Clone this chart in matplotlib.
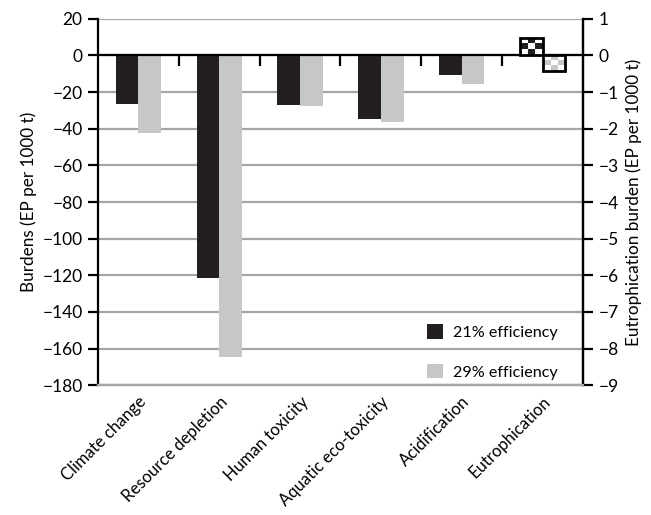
import numpy as np
import matplotlib.pyplot as plt
from matplotlib.patches import Patch
from matplotlib.colors import ListedColormap

plt.rcParams['font.family'] = ['Lato', 'DejaVu Sans']

categories = ['Climate change', 'Resource depletion', 'Human toxicity',
              'Aquatic eco-toxicity', 'Acidification', 'Eutrophication']
# burdens on left axis (first five categories)
eff21 = [-26.3, -121.3, -26.9, -34.5, -10.9]
eff29 = [-42.3, -164.8, -27.6, -36.3, -15.4]
# eutrophication on right axis
eutro21 = 0.48
eutro29 = -0.44

left_ticks = np.arange(-180, 21, 20)
right_ticks = np.arange(-9, 2, 1)

dark = '#231f20'
light = '#c6c7c8'
gridc = '#a6a6a6'

fig = plt.figure(figsize=(6.51, 5.15), dpi=100)
ax = fig.add_axes([0.1505, 0.2518, 0.745, 0.7119])
ax2 = ax.twinx()

x = np.arange(len(categories))
w = 0.28

ax.set_xlim(-0.5, len(categories) - 0.5)
ax.set_ylim(-180, 20)
ax2.set_ylim(-9, 1)

ax.set_yticks(left_ticks)
ax2.set_yticks(right_ticks)
ax.yaxis.grid(True, color=gridc, lw=1.6)
ax.set_axisbelow(True)

ax.bar(x[:5] - w / 2, eff21, w, color=dark, zorder=3)
ax.bar(x[:5] + w / 2, eff29, w, color=light, zorder=3)

# eutrophication bars with checker fill on the secondary axis
b1 = ax2.bar(x[5] - w / 2, eutro21, w, facecolor='white', edgecolor='none', zorder=3)
b2 = ax2.bar(x[5] + w / 2, eutro29, w, facecolor='white', edgecolor='none', zorder=3)
for bars, col in [(b1, dark), (b2, light)]:
    p = bars[0]
    x0, y0 = p.get_x(), p.get_y()
    x1, y1 = x0 + p.get_width(), y0 + p.get_height()
    cells = (np.indices((3, 3)).sum(axis=0) % 2).astype(float)
    im = ax2.imshow(cells, cmap=ListedColormap(['white', col]),
                    extent=[x0, x1, min(y0, y1), max(y0, y1)],
                    aspect='auto', interpolation='nearest', zorder=3.5)
    im.set_clip_path(p)
    ax2.add_patch(plt.Rectangle((x0, y0), p.get_width(), p.get_height(), fill=False,
                                edgecolor='black', lw=2, zorder=4))

ax.axhline(0, color='black', lw=1.6, zorder=5)

# category separators hanging under the zero line
zero_pos = (0 - ax.get_ylim()[0]) / (ax.get_ylim()[1] - ax.get_ylim()[0])
sec = ax.secondary_xaxis(zero_pos)
sec.set_xticks(x[:-1] + 0.5)
sec.set_xticklabels([])
sec.tick_params(direction='in', length=8, width=1.6, color='black')
for s in sec.spines.values():
    s.set_visible(False)

ax.set_xticks(x)
ax.set_xticklabels(categories, rotation=45, ha='right', rotation_mode='anchor', fontsize=12)
ax.tick_params(axis='x', length=0, pad=6)

for a in (ax, ax2):
    a.spines['top'].set_visible(False)
    a.spines['bottom'].set_color(gridc)
    a.spines['bottom'].set_linewidth(1.6)
    a.spines['left'].set_linewidth(1.6)
    a.spines['right'].set_linewidth(1.6)
    a.tick_params(axis='y', labelsize=12.5, length=7, width=1.6, direction='out', pad=4)
ax2.spines['left'].set_visible(False)

ax.set_ylabel('Burdens (EP per 1000 t)', fontsize=12.3, labelpad=4)
ax2.set_ylabel('Eutrophication burden (EP per 1000 t)', fontsize=12.3, rotation=90, labelpad=5)

handles = [Patch(facecolor=dark, label='21% efficiency'),
           Patch(facecolor=light, label='29% efficiency')]
ax.legend(handles=handles, loc='center', bbox_to_anchor=(0.8125, 0.091), frameon=False,
          fontsize=11.6, handlelength=1.0, handleheight=1.0, labelspacing=1.5, handletextpad=0.6)

fig.savefig('out.png', dpi=100)
